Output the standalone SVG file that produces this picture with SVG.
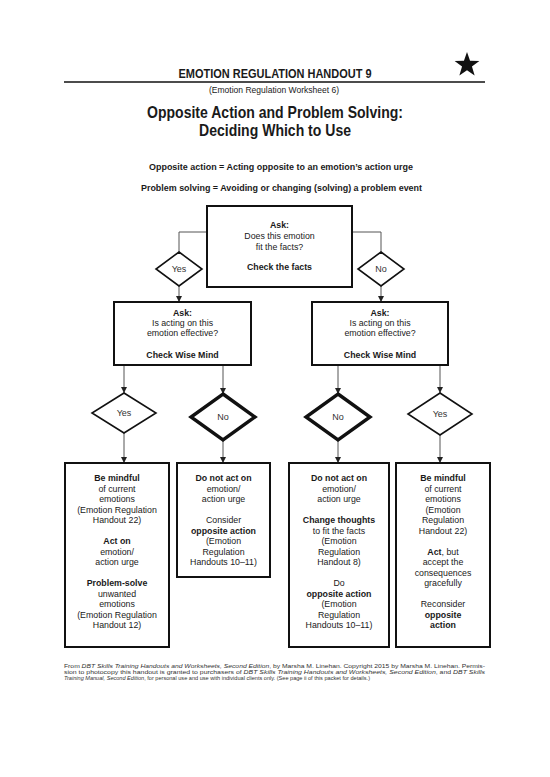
<svg xmlns="http://www.w3.org/2000/svg" width="550" height="777" viewBox="0 0 550 777">
<style>
text{font-family:"Liberation Sans",Arial,sans-serif;fill:#1a1a1a}
.box{fill:#fff;stroke:#111;stroke-width:2}
.dia{fill:#fff;stroke:#111;stroke-width:1.6}
.diat{fill:#fff;stroke:#111;stroke-width:3.4}
.con{fill:none;stroke:#555;stroke-width:1}
.t{font-size:8.8px;text-anchor:middle}
.b{font-weight:bold}
.dl{font-size:9px;text-anchor:middle;fill:#333}
.ft{font-size:6px;fill:#333}
.i{font-style:italic}
</style>
<defs>
<marker id="ah" viewBox="0 0 6 6" refX="6" refY="3" markerWidth="6" markerHeight="6" markerUnits="userSpaceOnUse" orient="auto">
<path d="M0,0 L6,3 L0,6 Z" fill="#222"/>
</marker>
</defs>
<rect width="550" height="777" fill="#fff"/>

<g id="header">
<text x="275" y="78" text-anchor="middle" font-size="12.5" font-weight="bold" textLength="193" lengthAdjust="spacingAndGlyphs">EMOTION REGULATION HANDOUT 9</text>
<line x1="64" y1="82" x2="485" y2="82" stroke="#111" stroke-width="1.5"/>
<polygon points="467,52 470.06,60.79 479.36,60.98 471.95,66.61 474.64,75.52 467,70.2 459.36,75.52 462.05,66.61 454.64,60.98 463.94,60.79" fill="#111"/>
<text x="274" y="93" text-anchor="middle" font-size="9.5" textLength="130" lengthAdjust="spacingAndGlyphs">(Emotion Regulation Worksheet 6)</text>
<text x="275" y="118" text-anchor="middle" font-size="16.5" font-weight="bold" textLength="256" lengthAdjust="spacingAndGlyphs">Opposite Action and Problem Solving:</text>
<text x="275" y="135.5" text-anchor="middle" font-size="16.5" font-weight="bold" textLength="152" lengthAdjust="spacingAndGlyphs">Deciding Which to Use</text>
<text x="281" y="170" text-anchor="middle" font-size="9" font-weight="bold" textLength="264" lengthAdjust="spacingAndGlyphs">Opposite action = Acting opposite to an emotion’s action urge</text>
<text x="281.5" y="191" text-anchor="middle" font-size="9" font-weight="bold" textLength="281" lengthAdjust="spacingAndGlyphs">Problem solving = Avoiding or changing (solving) a problem event</text>
</g>

<g id="connectors">
<path class="con" d="M207,232 H179 V252"/>
<path class="con" d="M352,232 H381 V252"/>
<path class="con" d="M179,286 V302" marker-end="url(#ah)"/>
<path class="con" d="M381,286 V302" marker-end="url(#ah)"/>
<path class="con" d="M124,365 V393" marker-end="url(#ah)"/>
<path class="con" d="M223,365 V394" marker-end="url(#ah)"/>
<path class="con" d="M338,365 V394" marker-end="url(#ah)"/>
<path class="con" d="M440,365 V393" marker-end="url(#ah)"/>
<path class="con" d="M124,433 V463" marker-end="url(#ah)"/>
<path class="con" d="M223,440 V463" marker-end="url(#ah)"/>
<path class="con" d="M338,440 V463" marker-end="url(#ah)"/>
<path class="con" d="M440,435 V463" marker-end="url(#ah)"/>
</g>

<g id="q1">
<rect class="box" x="207" y="206" width="145" height="81"/>
<text class="t b" x="279.5" y="228">Ask:</text>
<text class="t" x="279.5" y="239">Does this emotion</text>
<text class="t" x="279.5" y="250">fit the facts?</text>
<text class="t b" x="279.5" y="270">Check the facts</text>
</g>

<g id="d-yes1">
<polygon class="dia" points="179,252 202,269 179,286 156,269"/>
<text class="dl" x="179" y="272">Yes</text>
</g>
<g id="d-no1">
<polygon class="dia" points="381,252 404,269 381,286 358,269"/>
<text class="dl" x="381" y="272">No</text>
</g>

<g id="q2-left">
<rect class="box" x="114" y="302" width="137" height="63"/>
<text class="t b" x="182.5" y="316">Ask:</text>
<text class="t" x="182.5" y="326">Is acting on this</text>
<text class="t" x="182.5" y="336">emotion effective?</text>
<text class="t b" x="182.5" y="358">Check Wise Mind</text>
</g>
<g id="q2-right">
<rect class="box" x="312" y="302" width="136" height="63"/>
<text class="t b" x="380" y="316">Ask:</text>
<text class="t" x="380" y="326">Is acting on this</text>
<text class="t" x="380" y="336">emotion effective?</text>
<text class="t b" x="380" y="358">Check Wise Mind</text>
</g>

<g id="d-yes2">
<polygon class="dia" points="124,393 156,413 124,433 92,413"/>
<text class="dl" x="124" y="416">Yes</text>
</g>
<g id="d-no2">
<polygon class="diat" points="223,394 255,417 223,440 191,417"/>
<text class="dl" x="223" y="420">No</text>
</g>
<g id="d-no3">
<polygon class="diat" points="338,394 370,417 338,440 306,417"/>
<text class="dl" x="338" y="420">No</text>
</g>
<g id="d-yes3">
<polygon class="dia" points="440,393 472,414 440,435 408,414"/>
<text class="dl" x="440" y="417">Yes</text>
</g>

<g id="r1">
<rect class="box" x="65" y="463" width="104" height="184"/>
<text class="t b" x="117" y="481">Be mindful</text>
<text class="t" x="117" y="491.5">of current</text>
<text class="t" x="117" y="502">emotions</text>
<text class="t" x="117" y="512.5">(Emotion Regulation</text>
<text class="t" x="117" y="523">Handout 22)</text>
<text class="t b" x="117" y="544">Act on</text>
<text class="t" x="117" y="554.5">emotion/</text>
<text class="t" x="117" y="565">action urge</text>
<text class="t b" x="117" y="586">Problem-solve</text>
<text class="t" x="117" y="596.5">unwanted</text>
<text class="t" x="117" y="607">emotions</text>
<text class="t" x="117" y="617.5">(Emotion Regulation</text>
<text class="t" x="117" y="628">Handout 12)</text>
</g>

<g id="r2">
<rect class="box" x="177" y="463" width="93" height="114"/>
<text class="t b" x="223.5" y="481">Do not act on</text>
<text class="t" x="223.5" y="491.5">emotion/</text>
<text class="t" x="223.5" y="502">action urge</text>
<text class="t" x="223.5" y="523">Consider</text>
<text class="t b" x="223.5" y="533.5">opposite action</text>
<text class="t" x="223.5" y="544">(Emotion</text>
<text class="t" x="223.5" y="554.5">Regulation</text>
<text class="t" x="223.5" y="565">Handouts 10–11)</text>
</g>

<g id="r3">
<rect class="box" x="289" y="463" width="100" height="184"/>
<text class="t b" x="339" y="481">Do not act on</text>
<text class="t" x="339" y="491.5">emotion/</text>
<text class="t" x="339" y="502">action urge</text>
<text class="t b" x="339" y="523">Change thoughts</text>
<text class="t" x="339" y="533.5">to fit the facts</text>
<text class="t" x="339" y="544">(Emotion</text>
<text class="t" x="339" y="554.5">Regulation</text>
<text class="t" x="339" y="565">Handout 8)</text>
<text class="t" x="339" y="586">Do</text>
<text class="t b" x="339" y="596.5">opposite action</text>
<text class="t" x="339" y="607">(Emotion</text>
<text class="t" x="339" y="617.5">Regulation</text>
<text class="t" x="339" y="628">Handouts 10–11)</text>
</g>

<g id="r4">
<rect class="box" x="396" y="463" width="94" height="184"/>
<text class="t b" x="443" y="481">Be mindful</text>
<text class="t" x="443" y="491.5">of current</text>
<text class="t" x="443" y="502">emotions</text>
<text class="t" x="443" y="512.5">(Emotion</text>
<text class="t" x="443" y="523">Regulation</text>
<text class="t" x="443" y="533.5">Handout 22)</text>
<text class="t" x="443" y="554.5"><tspan class="b">Act</tspan>, but</text>
<text class="t" x="443" y="565">accept the</text>
<text class="t" x="443" y="575.5">consequences</text>
<text class="t" x="443" y="586">gracefully</text>
<text class="t" x="443" y="607">Reconsider</text>
<text class="t b" x="443" y="617.5">opposite</text>
<text class="t b" x="443" y="628">action</text>
</g>

<g id="footer">
<text class="ft" x="64" y="667.5" textLength="421" lengthAdjust="spacingAndGlyphs">From <tspan class="i">DBT Skills Training Handouts and Worksheets, Second Edition</tspan>, by Marsha M. Linehan. Copyright 2015 by Marsha M. Linehan. Permis-</text>
<text class="ft" x="64" y="673.5" textLength="421" lengthAdjust="spacingAndGlyphs">sion to photocopy this handout is granted to purchasers of <tspan class="i">DBT Skills Training Handouts and Worksheets, Second Edition</tspan>, and <tspan class="i">DBT Skills</tspan></text>
<text class="ft" x="64" y="679.5" textLength="306" lengthAdjust="spacingAndGlyphs"><tspan class="i">Training Manual, Second Edition</tspan>, for personal use and use with individual clients only. (See page ii of this packet for details.)</text>
</g>
</svg>
